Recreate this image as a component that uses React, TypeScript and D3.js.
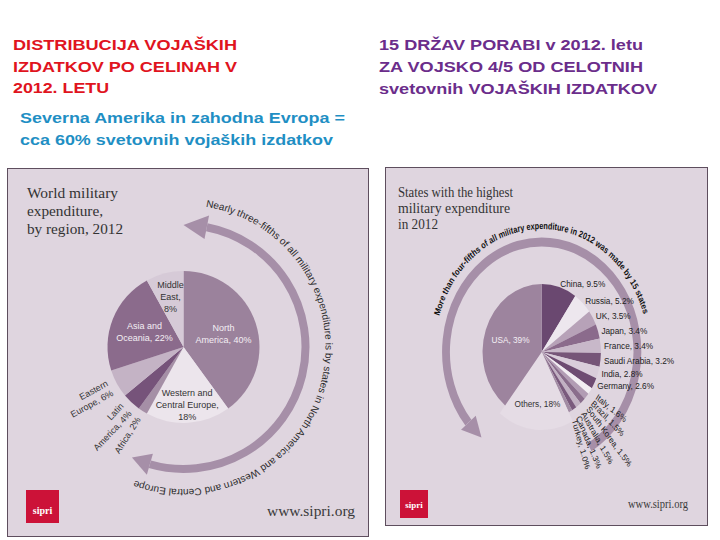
import React from "react";
import * as d3 from "d3";

// regional shares (left infographic)
const regionNames = [
  "North America",
  "Western and Central Europe",
  "Africa",
  "Latin America",
  "Eastern Europe",
  "Asia and Oceania",
  "Middle East",
];
const regionShares = [40, 18, 2, 4, 6, 22, 8];
const regionLabels = [
  ["North", "America, 40%"],
  ["Western and", "Central Europe,", "18%"],
  ["Africa, 2%"],
  ["Latin", "America, 4%"],
  ["Eastern", "Europe, 6%"],
  ["Asia and", "Oceania, 22%"],
  ["Middle", "East,", "8%"],
];

// top 15 states (right infographic)
const stateNames = [
  "China", "Russia", "UK", "Japan", "France", "Saudi Arabia", "India", "Germany",
  "Italy", "Brazil", "South Korea", "Australia", "Canada", "Turkey", "Others", "USA",
];
const stateShares = [9.5, 5.2, 3.5, 3.4, 3.4, 3.2, 2.8, 2.6, 1.6, 1.5, 1.5, 1.5, 1.3, 1.0, 18, 39];
const stateLabels = [
  "China, 9.5%", "Russia, 5.2%", "UK, 3.5%", "Japan, 3.4%", "France, 3.4%",
  "Saudi Arabia, 3.2%", "India, 2.8%", "Germany, 2.6%", "Italy, 1.6%", "Brazil, 1.5%",
  "South Korea, 1.5%", "Australia, 1.5%", "Canada, 1.3%", "Turkey, 1.0%",
  "Others, 18%", "USA, 39%",
];

const redLines = ["DISTRIBUCIJA VOJAŠKIH", "IZDATKOV PO CELINAH V", "2012. LETU"];
const blueLines = ["Severna Amerika in zahodna Evropa =", "cca 60% svetovnih vojaških izdatkov"];
const purpleLines = ["15 DRŽAV PORABI v 2012. letu", "ZA VOJSKO 4/5 OD CELOTNIH", "svetovnih VOJAŠKIH IZDATKOV"];

const regionColors = ["#9b829c", "#ece5ec", "#a58fa6", "#76537a", "#c4b3c5", "#8b6b8c", "#d6cad7"];
const stateColors = [
  "#6a4870", "#ede7ee", "#b7a2b8", "#8b6b8c", "#c8b8c9", "#765578", "#d9cdda", "#6e4c72",
  "#f2edf2", "#b29cb4", "#8a6d8c", "#c2b1c3", "#7a5a7d", "#a28ca4", "#e5dce5", "#9d849e",
];

const SANS = "'Liberation Sans', Arial, sans-serif";
const SERIF = "'Liberation Serif', 'Times New Roman', serif";
const PANEL = "#dfd5df";
const ARROW = "#a68fa8";

const rad = (deg: number) => (deg * Math.PI) / 180;
const polar = (r: number, deg: number): [number, number] => [r * Math.sin(rad(deg)), -r * Math.cos(rad(deg))];

function arcPath(r: number, a0: number, a1: number) {
  const [x0, y0] = polar(r, a0);
  const [x1, y1] = polar(r, a1);
  const large = a1 - a0 > 180 ? 1 : 0;
  return `M${x0},${y0} A${r},${r} 0 ${large} 1 ${x1},${y1}`;
}

function arrowHead(r: number, aBase: number, aTip: number, hw: number) {
  const pts = [polar(r - hw, aBase), polar(r + hw, aBase), polar(r, aTip)];
  return pts.map((p) => p.join(",")).join(" ");
}

function LeftPanel() {
  const cx = 183.5, cy = 347, R = 76;
  const arcs = d3.pie<number>().sort(null).value((d) => d)(regionShares);
  const arc = d3.arc<d3.PieArcDatum<number>>().innerRadius(0).outerRadius(R);
  // label radius per slice; beyond R means outside and rotated
  const labelR = [42, 58, 84, 84, 84, 42, 52];
  const lightText = [true, false, false, false, false, true, false];
  const arcR = 122, textR = 142;
  return (
    <g>
      <rect x={7.5} y={168.5} width={361} height={368} fill={PANEL} stroke="#5e4e5e" />
      <g fontFamily={SERIF} fontSize={15} fill="#333">
        <text x={27} y={198} textLength={91} lengthAdjust="spacingAndGlyphs">World military</text>
        <text x={27} y={216} textLength={76} lengthAdjust="spacingAndGlyphs">expenditure,</text>
        <text x={27} y={234} textLength={96} lengthAdjust="spacingAndGlyphs">by region, 2012</text>
      </g>
      <g transform={`translate(${cx},${cy})`}>
        <path d={arcPath(arcR, 11, 196)} fill="none" stroke={ARROW} strokeWidth={8} />
        <polygon points={arrowHead(arcR, 11, 0, 12)} fill={ARROW} />
        <polygon points={arrowHead(arcR, 196, 205, 11)} fill={ARROW} />
        <defs>
          <path id="leftTextArc" d={arcPath(textR, 9, 200)} />
        </defs>
        <text fontFamily={SANS} fontSize={10} fill="#2b2b2b">
          <textPath href="#leftTextArc" textLength={rad(191) * textR} lengthAdjust="spacingAndGlyphs">
            Nearly three-fifths of all military expenditure is by states in North America and Western and Central Europe
          </textPath>
        </text>
        {arcs.map((a, i) => (
          <path key={regionNames[i]} d={arc(a) ?? ""} fill={regionColors[i]} />
        ))}
        {arcs.map((a, i) => {
          const mid = ((a.startAngle + a.endAngle) / 2) * (180 / Math.PI);
          const [x, y] = polar(labelR[i], mid);
          const lines = regionLabels[i];
          if (labelR[i] > R) {
            const off = lines.length === 1 ? [0] : [-5.5, 5.5];
            return (
              <g key={i} transform={`translate(${x},${y}) rotate(${mid - 270})`}
                fontFamily={SANS} fontSize={9} fill="#333" textAnchor="end">
                {lines.map((l, j) => (
                  <text key={j} x={0} y={off[j]} dy="0.35em">{l}</text>
                ))}
              </g>
            );
          }
          const top = -((lines.length - 1) * 12) / 2;
          return (
            <g key={i} fontFamily={SANS} fontSize={9} textAnchor="middle"
              fill={lightText[i] ? "#f4eff4" : "#333"}>
              {lines.map((l, j) => (
                <text key={j} x={x} y={y + top + j * 12} dy="0.35em">{l}</text>
              ))}
            </g>
          );
        })}
      </g>
      <rect x={26} y={490} width={33} height={33} fill="#cc1238" />
      <text x={42.5} y={514} textAnchor="middle" fontFamily={SERIF} fontWeight="bold" fontSize={10} fill="#fff">sipri</text>
      <text x={267} y={516} fontFamily={SERIF} fontSize={15} fill="#3a3a3a" textLength={88} lengthAdjust="spacingAndGlyphs">www.sipri.org</text>
    </g>
  );
}

function RightPanel() {
  const cx = 541.7, cy = 352, R = 68, othersR = 78, sx = 0.87;
  const arcs = d3.pie<number>().sort(null).value((d) => d)(stateShares);
  const arcR = 110, textR = 123;
  return (
    <g>
      <rect x={385.5} y={167.5} width={322} height={358} fill={PANEL} stroke="#5e4e5e" />
      <g fontFamily={SERIF} fontSize={14} fill="#333">
        <text x={398} y={197} textLength={115} lengthAdjust="spacingAndGlyphs">States with the highest</text>
        <text x={398} y={213} textLength={112} lengthAdjust="spacingAndGlyphs">military expenditure</text>
        <text x={398} y={229} textLength={40} lengthAdjust="spacingAndGlyphs">in 2012</text>
      </g>
      <g transform={`translate(${cx},${cy}) scale(${sx},1)`}>
        <path d={arcPath(arcR, -130, 150)} fill="none" stroke={ARROW} strokeWidth={9} />
        <polygon points={arrowHead(arcR, -130, -141, 11)} fill={ARROW} />
        <defs>
          <path id="rightTextArc" d={arcPath(textR, -73, 72)} />
        </defs>
        <text fontFamily={SANS} fontWeight="bold" fontSize={9.5} fill="#111">
          <textPath href="#rightTextArc" textLength={rad(145) * textR} lengthAdjust="spacingAndGlyphs">
            More than four-fifths of all military expenditure in 2012 was made by 15 states
          </textPath>
        </text>
        {arcs.map((a, i) => {
          const r = stateNames[i] === "Others" ? othersR : R;
          const p = d3.arc<d3.PieArcDatum<number>>().innerRadius(0).outerRadius(r)(a) ?? "";
          return <path key={stateNames[i]} d={p} fill={stateColors[i]} />;
        })}
        {arcs.map((a, i) => {
          const mid = ((a.startAngle + a.endAngle) / 2) * (180 / Math.PI);
          const name = stateNames[i];
          if (name === "USA" || name === "Others") {
            const [x, y] = polar(name === "USA" ? 38 : 52, mid);
            return (
              <text key={i} x={x} y={y} dy="0.35em" textAnchor="middle" fontFamily={SANS} fontSize={9.5}
                fill={name === "USA" ? "#f4eff4" : "#333"}>
                {stateLabels[i]}
              </text>
            );
          }
          if (i < 8) {
            const [x, y] = polar(R + 4, mid);
            return (
              <text key={i} x={x} y={y} dy="0.35em" fontFamily={SANS} fontSize={9.5} fill="#222">
                {stateLabels[i]}
              </text>
            );
          }
          // small slices: labels fan out along the radius, spread a little wider than the slices
          const [x, y] = polar(R + 9, mid);
          const tilt = 35 + (i - 8) * 7.5;
          return (
            <text key={i} transform={`translate(${x},${y}) rotate(${tilt})`} dy="0.35em"
              fontFamily={SANS} fontSize={9} fill="#222">
              {stateLabels[i]}
            </text>
          );
        })}
      </g>
      <rect x={400} y={490} width={28} height={28} fill="#cc1238" />
      <text x={414} y={508} textAnchor="middle" fontFamily={SERIF} fontWeight="bold" fontSize={9} fill="#fff">sipri</text>
      <text x={628} y={508} fontFamily={SERIF} fontSize={12} fill="#3a3a3a" textLength={60} lengthAdjust="spacingAndGlyphs">www.sipri.org</text>
    </g>
  );
}

export default function App() {
  const redWidths = [224, 224, 96];
  const blueWidths = [325, 313];
  const purpleWidths = [264, 264, 278];
  return (
    <svg width={720} height={540} style={{ position: "absolute", left: 0, top: 0, background: "#fff" }}>
      <rect width={720} height={540} fill="#fff" />
      <g fontFamily={SANS} fontWeight="bold" fontSize={15}>
        {redLines.map((l, i) => (
          <text key={l} x={13} y={50 + i * 21.5} fill="#e0141e" textLength={redWidths[i]} lengthAdjust="spacingAndGlyphs">{l}</text>
        ))}
        {blueLines.map((l, i) => (
          <text key={l} x={20} y={123 + i * 21.5} fill="#1f8fc4" textLength={blueWidths[i]} lengthAdjust="spacingAndGlyphs">{l}</text>
        ))}
        {purpleLines.map((l, i) => (
          <text key={l} x={379} y={50 + i * 22} fill="#6b2d8b" textLength={purpleWidths[i]} lengthAdjust="spacingAndGlyphs">{l}</text>
        ))}
      </g>
      <LeftPanel />
      <RightPanel />
    </svg>
  );
}
